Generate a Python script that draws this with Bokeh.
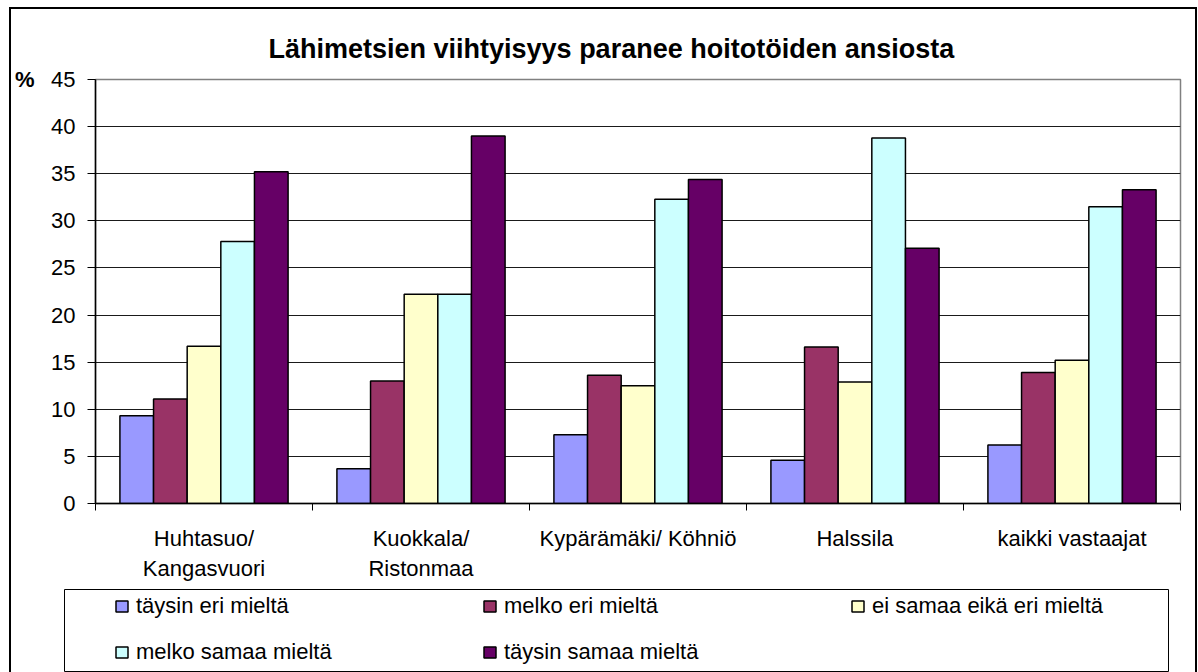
import numpy as np
from bokeh.plotting import figure
from bokeh.layouts import column, row
from bokeh.models import (ColumnDataSource, Range1d, FixedTicker, Legend, LegendItem,
                          LinearAxis)
from bokeh.embed import file_html
from bokeh.resources import INLINE

# ---- data ----
categories = ["Huhtasuo/\nKangasvuori", "Kuokkala/\nRistonmaa", "Kypärämäki/ Köhniö",
              "Halssila", "kaikki vastaajat"]
series_names = ["täysin eri mieltä", "melko eri mieltä", "ei samaa eikä eri mieltä",
                "melko samaa mieltä", "täysin samaa mieltä"]
taysin_eri = [9.3, 3.7, 7.3, 4.6, 6.2]
melko_eri = [11.1, 13.0, 13.6, 16.6, 13.9]
ei_samaa_eika_eri = [16.7, 22.2, 12.5, 12.9, 15.2]
melko_samaa = [27.8, 22.2, 32.3, 38.8, 31.5]
taysin_samaa = [35.2, 39.0, 34.4, 27.1, 33.3]
y_ticks = [0, 5, 10, 15, 20, 25, 30, 35, 40, 45]
title_text = "Lähimetsien viihtyisyys paranee hoitotöiden ansiosta"
unit_label = "%"

series_values = [taysin_eri, melko_eri, ei_samaa_eika_eri, melko_samaa, taysin_samaa]
colors = ["#9999FF", "#993366", "#FFFFCC", "#CCFFFF", "#660066"]

FONT = "Liberation Sans"
FS = "22px"
CW = 1184  # inner width of the bordered chart area

# ---------------- main chart ----------------
p = figure(width=CW, height=579, output_backend="svg", toolbar_location=None,
           x_range=Range1d(0, len(categories)), y_range=Range1d(0, 45),
           min_border_left=82, min_border_right=15, min_border_top=70,
           min_border_bottom=85)
p.background_fill_color = "white"
p.border_fill_color = "white"
p.outline_line_color = "#808080"
p.outline_line_width = 1.5

p.title.text = title_text
p.title.text_font = FONT
p.title.text_font_style = "bold"
p.title.text_font_size = "27px"
p.title.text_color = "black"
p.title.align = "left"
p.title.offset = 173
p.title.standoff = 31

centers = np.arange(len(categories)) + 0.5
bw = 0.155
for k, (vals, col) in enumerate(zip(series_values, colors)):
    src = ColumnDataSource(dict(x=centers + (k - 2) * bw, top=vals))
    p.vbar(x="x", top="top", width=bw, bottom=0, source=src, fill_color=col,
           line_color="black", line_width=1.5)

xa = p.xaxis[0]
xa.ticker = FixedTicker(ticks=list(centers), minor_ticks=list(range(len(categories) + 1)))
xa.major_label_overrides = {float(c): lab for c, lab in zip(centers, categories)}
xa.major_tick_out = 0
xa.major_tick_in = 0
xa.minor_tick_out = 7
xa.minor_tick_in = 0
xa.minor_tick_line_color = "black"
xa.axis_line_color = "black"
xa.axis_line_width = 1.5
xa.major_label_text_font = FONT
xa.major_label_text_font_size = FS
xa.major_label_text_color = "black"
xa.major_label_standoff = 15
xa.major_label_text_line_height = 1.2

ya = p.yaxis[0]
ya.ticker = FixedTicker(ticks=y_ticks)
ya.minor_tick_line_color = None
ya.major_tick_out = 8
ya.major_tick_in = 0
ya.major_tick_line_color = "black"
ya.axis_line_color = "black"
ya.axis_line_width = 1.5
ya.major_label_text_font = FONT
ya.major_label_text_font_size = FS
ya.major_label_text_color = "black"
ya.major_label_standoff = 12

# "%" unit shown beside the top tick, as a second (label-only) axis
pct = LinearAxis(ticker=FixedTicker(ticks=[y_ticks[-1]]),
                 major_label_overrides={y_ticks[-1]: unit_label})
pct.axis_line_color = None
pct.major_tick_line_color = None
pct.minor_tick_line_color = None
pct.major_tick_out = 0
pct.major_label_standoff = 14
pct.major_label_text_font = FONT
pct.major_label_text_font_style = "bold"
pct.major_label_text_font_size = FS
pct.major_label_text_color = "black"
p.add_layout(pct, "left")

p.xgrid.grid_line_color = None
p.ygrid.ticker = FixedTicker(ticks=y_ticks[1:-1])
p.ygrid.grid_line_color = "#1a1a1a"
p.ygrid.grid_line_width = 1

# ---------------- legend box ----------------
lg = figure(width=CW, height=84, output_backend="svg", toolbar_location=None,
            x_range=Range1d(0, len(categories)), y_range=Range1d(-2, -1),
            x_axis_type=None, y_axis_type=None,
            min_border_left=53, min_border_right=27, min_border_top=1,
            min_border_bottom=1)
lg.grid.visible = False
lg.outline_line_color = "black"
lg.outline_line_width = 1
lg.background_fill_color = "white"
lg.border_fill_color = "white"
items = []
for name, vals, col in zip(series_names, series_values, colors):
    src = ColumnDataSource(dict(x=centers, top=vals))
    r = lg.vbar(x="x", top="top", width=bw, bottom=0, source=src, fill_color=col,
                line_color="black", line_width=1.5)
    r.visible = False  # only its legend swatch is shown
    items.append(LegendItem(label=name, renderers=[r]))

legend = Legend(items=items, ncols=3, location=(50, 6), orientation="horizontal",
                border_line_alpha=0, background_fill_alpha=0, padding=0, margin=0,
                glyph_width=15, glyph_height=14, label_height=20, label_width=326,
                label_standoff=7, spacing=20, click_policy="none",
                label_text_font=FONT, label_text_font_size=FS, label_text_color="black")
lg.add_layout(legend, "center")

layout = column(row(p), row(lg), spacing=0, margin=(7, 0, 0, 9),
                styles={"border-left": "2px solid black", "border-top": "2px solid black",
                        "border-right": "2px solid black"})

open("out.html", "w").write(file_html(layout, INLINE))
